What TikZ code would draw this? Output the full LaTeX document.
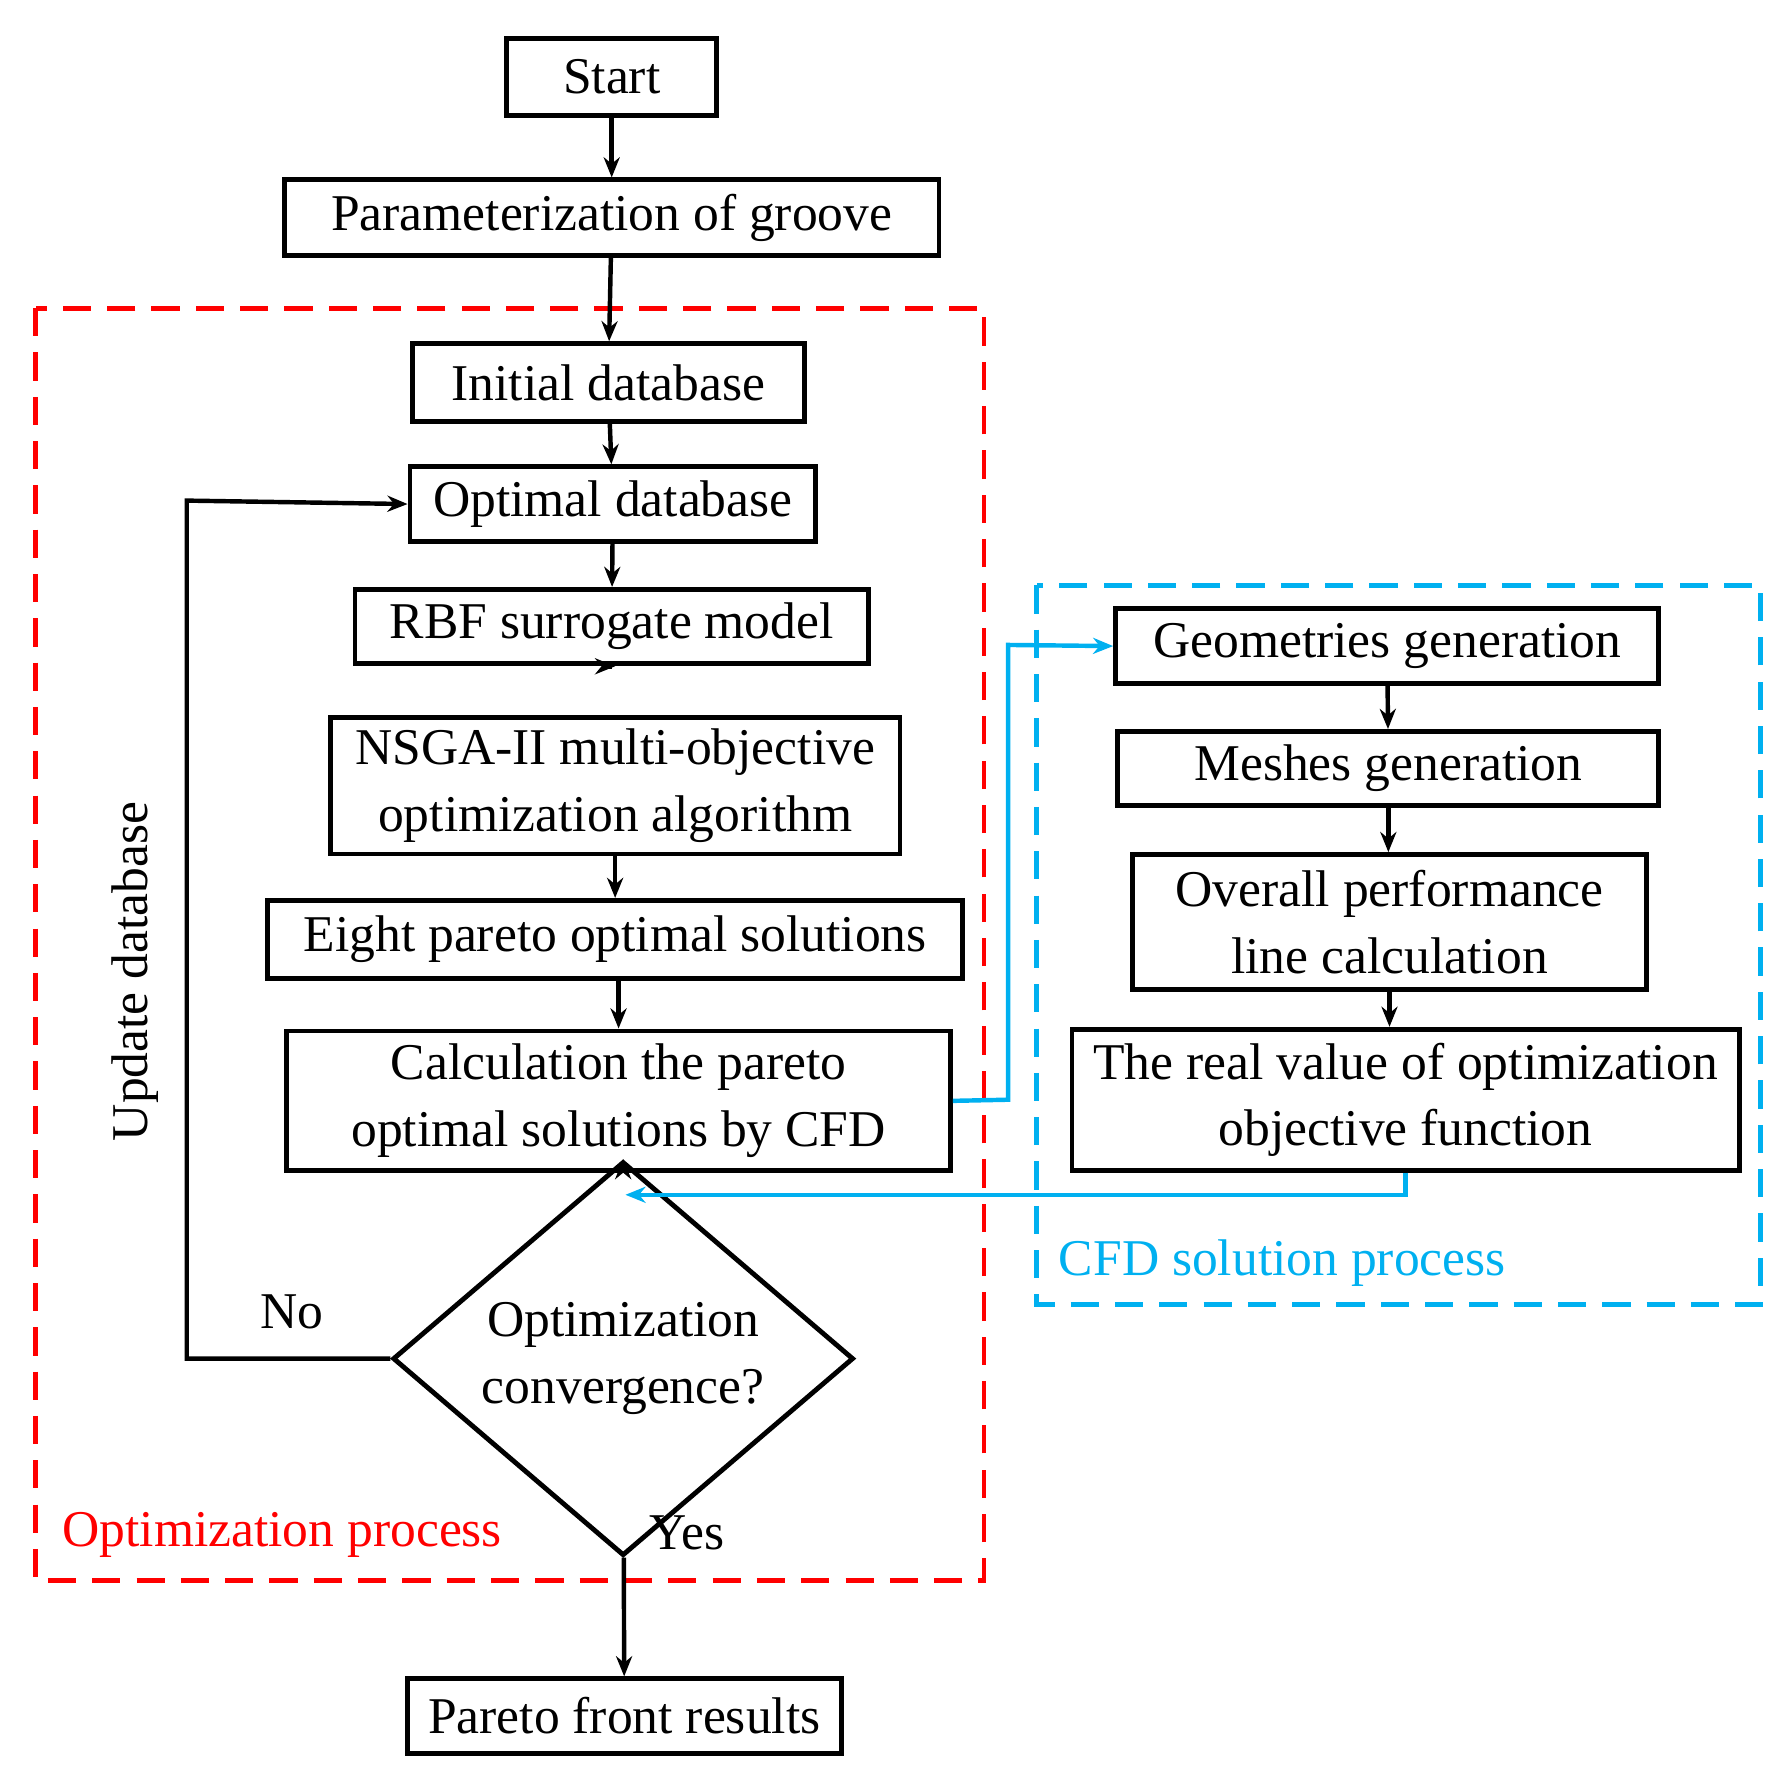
\documentclass[tikz,border=0pt]{standalone}
\usepackage{fontspec}
\setmainfont{Liberation Serif}
\usetikzlibrary{shapes.geometric,arrows.meta}
\definecolor{cfd}{RGB}{0,176,240}
\begin{document}
\begin{tikzpicture}[x=0.01cm,y=-0.01cm,
  box/.style={draw,line width=1.2pt,minimum height=0.65cm,inner sep=0pt,align=center,font=\fontsize{12.8}{16.5}\selectfont},
  lbl/.style={font=\fontsize{12.8}{16}\selectfont},
  ar/.style={line width=1.1pt,-{Stealth[length=5pt,width=4pt]}},
  dsh/.style={line width=1.2pt,dash pattern=on 7pt off 4pt}]
\useasboundingbox (0,0) rectangle (1560,1547);
\node[box,minimum width=1.83cm,minimum height=0.67cm] (start) at (534,67) {Start};
\node[box,minimum width=5.71cm,minimum height=0.66cm] (param) at (534,190) {Parameterization of groove};
\node[box,minimum width=3.42cm,minimum height=0.68cm] (init) at (531,334) {Initial database};
\node[box,minimum width=3.54cm] (opt) at (535,440) {Optimal database};
\node[box,minimum width=4.48cm] (rbf) at (534,547) {RBF surrogate model};
\node[box,minimum width=4.97cm,minimum height=1.19cm] (nsga) at (537,686) {NSGA-II multi-objective\\optimization algorithm};
\node[box,minimum width=6.06cm,minimum height=0.68cm] (eight) at (537,820) {Eight pareto optimal solutions};
\node[box,minimum width=5.79cm,minimum height=1.22cm] (calc) at (540,961) {Calculation the pareto\\optimal solutions by CFD};
\node[draw,line width=1.2pt,diamond,minimum width=4.02cm,minimum height=2.38cm,inner sep=0pt,align=center,font=\fontsize{12.8}{16.5}\selectfont] (conv) at (544,1186) {Optimization\\convergence?};
\node[box,minimum width=3.79cm] (pareto) at (545,1498) {Pareto front results};
\node[box,minimum width=4.74cm] (geom) at (1211,564) {Geometries generation};
\node[box,minimum width=4.72cm] (mesh) at (1212,671) {Meshes generation};
\node[box,minimum width=4.48cm,minimum height=1.18cm] (over) at (1213,805) {Overall performance\\line calculation};
\node[box,minimum width=5.82cm,minimum height=1.23cm] (real) at (1227,960) {The real value of optimization\\objective function};
\draw[dsh,red] (31,269) rectangle (859,1380);
\draw[dsh,cfd] (905,511) rectangle (1537,1139);
\node[lbl,red,anchor=west] (op) at (42,1340) {Optimization process};
\node[lbl,cfd,anchor=west] (cp) at (912,1103) {CFD solution process};
\node[lbl,rotate=90] (upd) at (118,848) {Update database};
\node[lbl] (no) at (255,1145) {No};
\node[lbl] (yes) at (600,1338) {Yes};
\draw[ar] (start) -- (param);
\draw[ar] (param) -- (init);
\draw[ar] (init) -- (opt);
\draw[ar] (opt) -- (rbf);
\draw[ar] (rbf.south) -- (rbf.south -| nsga.north);
\draw[ar] (nsga) -- (eight);
\draw[ar] (eight.south -| calc.north) -- (calc.north);
\draw[ar] (calc.south -| conv.north) -- (conv.north);
\draw[ar] (conv) -- (pareto);
\draw[ar] (geom) -- (mesh);
\draw[ar] (mesh) -- (mesh.south |- over.north);
\draw[ar] (over.south) -- (over.south |- real.north);
\draw[ar] (conv.west) -- (163,1186) -- (163,437) -- (opt.west);
\draw[ar,cfd] (calc.east) -- (880,960) -- (880,563) -- (geom.west);
\draw[ar,cfd] (real.south) -- (1227,1043) -- (546,1043);
\end{tikzpicture}
\end{document}
